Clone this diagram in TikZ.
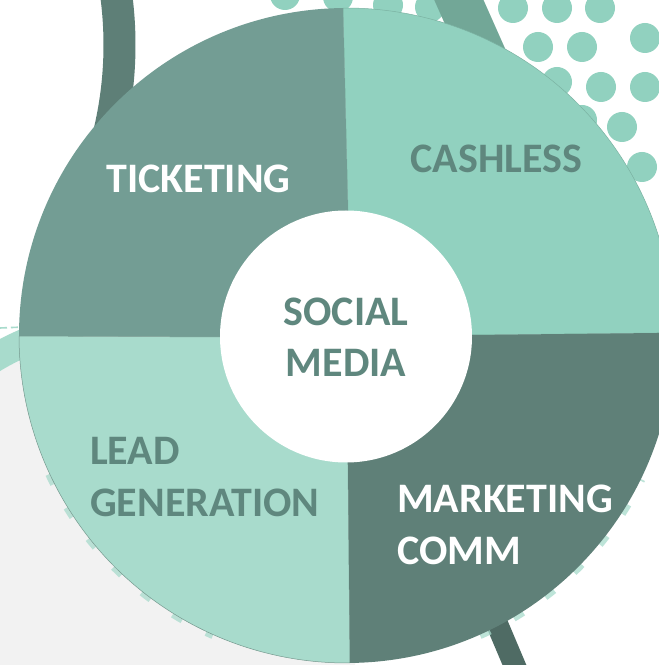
\documentclass[tikz,border=0pt]{standalone}
\usepackage{fontspec}
\setmainfont{Carlito}
\definecolor{ticketfill}{HTML}{739D94}
\definecolor{cashfill}{HTML}{91D1BF}
\definecolor{leadfill}{HTML}{A8DBCC}
\definecolor{mktfill}{HTML}{5F8078}
\definecolor{textdark}{HTML}{5F877E}
\definecolor{dotgreen}{HTML}{91D1BF}
\definecolor{bandleft}{HTML}{5E7F77}
\definecolor{bandright}{HTML}{72A797}
\definecolor{bandlow}{HTML}{4F6B64}
\definecolor{paleground}{HTML}{F2F2F2}
\definecolor{ringgreen}{HTML}{A8DBCC}
\tikzset{
  quadtext/.style={font=\fontsize{42}{50}\selectfont\bfseries, inner sep=0pt, anchor=base},
  darktext/.style={text=textdark},
  lighttext/.style={text=white},
  bgdot/.style={fill=dotgreen},
  seam/.style={draw=#1, line width=0.5pt},
  halo/.style={ringgreen, line width=6pt, dash pattern=on 11pt off 27pt, opacity=0.75},
}
\begin{document}
\begin{tikzpicture}[x=1pt,y=1pt]
\useasboundingbox (0,0) rectangle (659,665);
\fill[white] (0,0) rectangle (659,665);
\clip (0,0) rectangle (659,665);

% pale disc in the lower left with its thick green rim
\fill[paleground] (126,85) circle (244);
\draw[ringgreen, line width=28pt] (126,85) ++(100:258) arc[start angle=100, end angle=150, radius=258];
\draw[ringgreen, line width=1.6pt, dash pattern=on 7pt off 4pt] (0,337) -- (24,338);

% dotted pattern, upper right
\foreach \px/\py in {285/-5, 338/-3, 388/5, 430/7, 513/8, 557/8, 600/8,
                     538/47, 582/47, 645/38,
                     557/82, 601/87, 645/87,
                     582/120, 622/127,
                     642/167}
  \fill[bgdot] (\px,665-\py) circle (15);

% sweeping bands behind the wheel
\draw[bandleft, line width=32pt] (-260.5,620) ++(20:380) arc[start angle=20, end angle=-30, radius=380];
\draw[bandright, line width=45pt] (450,685) -- (530,505);
\draw[bandlow, line width=22pt] (470,105) -- (525,-25);

% dashed halo peeking out round the lower rim of the wheel
\draw[halo] (346.5,329.5) ++(205:329) arc[start angle=205, end angle=246, radius=329];
\draw[halo] (346.5,329.5) ++(294:329) arc[start angle=294, end angle=334, radius=329];

% the four quarters of the wheel
\coordinate (C) at (346.5,329.5);
\coordinate (hubpt) at (347,329);
\coordinate (topin) at (348,455);
\coordinate (lowin) at (348,200);
\coordinate (leftin) at (220,328);
\coordinate (rightin) at (472,330);

\fill[cashfill, seam=cashfill!85!black] (C) ++(0.47:327.5) arc[start angle=0.47, end angle=90.61, radius=327.5]
  -- (topin) -- (hubpt) -- (rightin) -- cycle;
\fill[ticketfill] (C) ++(90.61:327.5) arc[start angle=90.61, end angle=180.09, radius=327.5]
  -- (leftin) -- (hubpt) -- (topin) -- cycle;
\fill[leadfill, seam=leadfill!70!black] (C) ++(180.09:327.5) arc[start angle=180.09, end angle=270.61, radius=327.5]
  -- (lowin) -- (hubpt) -- (leftin) -- cycle;
\fill[mktfill] (C) ++(270.61:327.5) arc[start angle=270.61, end angle=360.47, radius=327.5]
  -- (rightin) -- (hubpt) -- (lowin) -- cycle;

% white centre disc
\node[circle, fill=white, minimum size=252pt, inner sep=0pt] (core) at (346,328.5) {};

% labels
\node[quadtext, lighttext] (ticketing) at (198.5,472) {TICKETING};
\node[quadtext, darktext] (cashless) at (496.5,492) {CASHLESS};
\node[quadtext, darktext] (social) at (346,339) {SOCIAL};
\node[quadtext, darktext] (media) at (346,288) {MEDIA};
\node[quadtext, darktext, anchor=base west] (lead) at (90,200) {LEAD};
\node[quadtext, darktext, anchor=base west] (generation) at (90,148) {GENERATION};
\node[quadtext, lighttext, anchor=base west] (marketing) at (397,152) {MARKETING};
\node[quadtext, lighttext, anchor=base west] (comm) at (397,100) {COMM};
\end{tikzpicture}
\end{document}
